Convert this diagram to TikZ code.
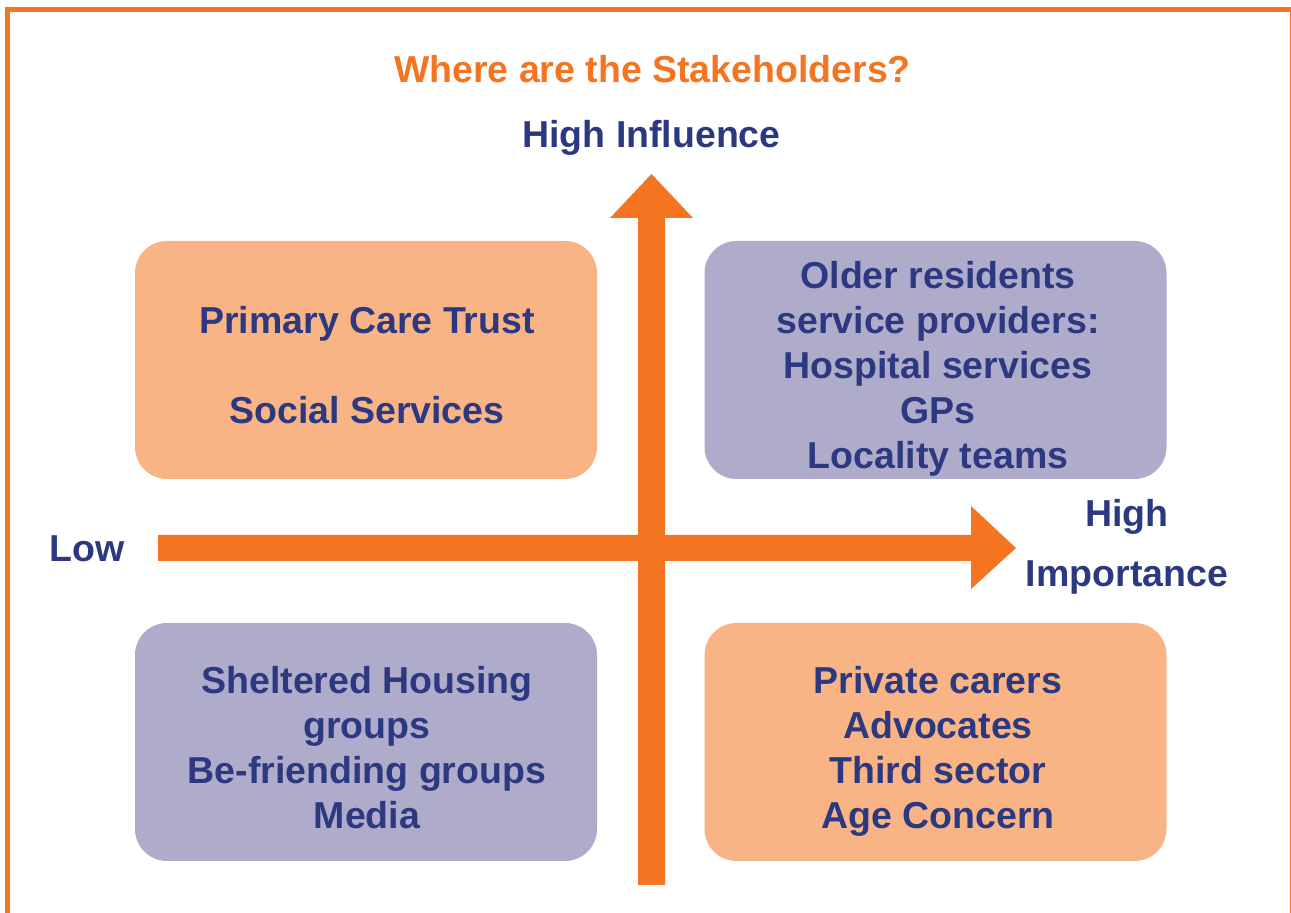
\documentclass[tikz,border=0pt]{standalone}
\usepackage{fontspec}
\setmainfont{Liberation Sans}
\definecolor{brandorange}{RGB}{244,116,33}
\definecolor{boxorange}{RGB}{249,180,134}
\definecolor{boxpurple}{RGB}{175,171,203}
\definecolor{navy}{RGB}{44,57,128}
\tikzset{
  quad/.style={rectangle, rounded corners=16pt, inner sep=0pt,
    minimum width=231pt, minimum height=119pt},
  txt/.style={font=\bfseries\fontsize{18.75}{22.5}\selectfont, text=navy,
    align=center, inner sep=0pt},
}
\begin{document}
\begin{tikzpicture}[x=0.5pt,y=-0.5pt]
\useasboundingbox (0,0) rectangle (1291,913);
\clip (0,0) rectangle (1291,913);
% frame
\draw[brandorange, line width=2.5pt] (7.5,9.5) rectangle (1292.5,950);
% quadrant boxes
\node[quad, fill=boxorange] (tl) at (366,360) {};
\node[quad, fill=boxpurple] (tr) at (935.5,360) {};
\node[quad, fill=boxpurple] (bl) at (366,742) {};
\node[quad, fill=boxorange] (br) at (935.5,742) {};
% arrows
\fill[brandorange] (158,535) -- (971,535) -- (971,506) -- (1016,548) -- (971,589) -- (971,561) -- (158,561) -- cycle;
\fill[brandorange] (638,885) -- (638,218) -- (610,218) -- (651.5,174) -- (693,218) -- (665,218) -- (665,885) -- cycle;
% title and axis labels
\node[txt, text=brandorange, anchor=base] (title) at (652.5,83) {Where are the Stakeholders?};
\node[txt, anchor=base] (hi) at (651.5,148) {High Influence};
\node[txt, anchor=base] (low) at (87,562) {Low};
\node[txt, anchor=base] (high) at (1127,527) {High};
\node[txt, anchor=base] (imp) at (1127,587) {Importance};
% box texts
\node[txt, anchor=north] (tltext) at (367,301.5) {\strut Primary Care Trust\\[22.5pt]Social Services};
\node[txt, anchor=north] (trtext) at (938,256.5) {\strut Older residents\\service providers:\\Hospital services\\GPs\\Locality teams};
\node[txt, anchor=north] (bltext) at (367,661.5) {\strut Sheltered Housing\\groups\\Be-friending groups\\Media};
\node[txt, anchor=north] (brtext) at (938,661.5) {\strut Private carers\\Advocates\\Third sector\\Age Concern};
\end{tikzpicture}
\end{document}
